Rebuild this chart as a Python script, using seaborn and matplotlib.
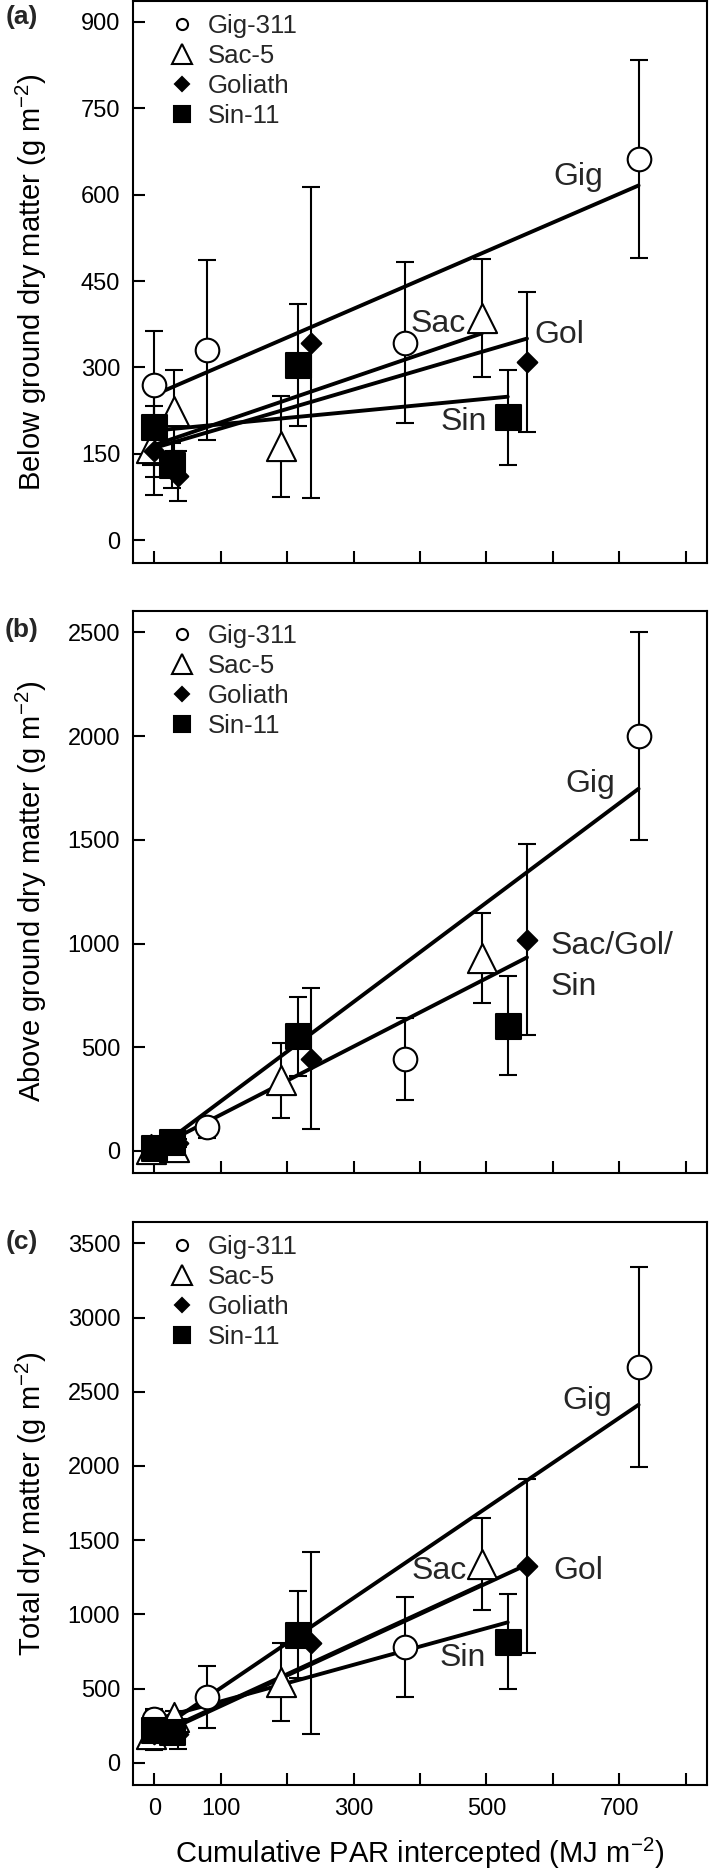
import matplotlib
matplotlib.use('Agg')
import matplotlib.pyplot as plt
import seaborn as sns
from matplotlib.lines import Line2D

# Cumulative PAR intercepted (MJ m-2) at each harvest, per cultivar
par_gig = [0, 80, 378, 729]
par_sac = [-5, 30, 190, 493]
par_gol = [0, 36, 236, 561]
par_sin = [0, 26, 216, 532]

# (a) Below ground dry matter (g m-2) with error bars
below_gig = [270, 330, 343, 662]
below_gig_err = [94, 156, 140, 172]
below_sac = [160, 225, 163, 386]
below_sac_err = [30, 70, 88, 102]
below_gol = [155, 111, 343, 309]
below_gol_err = [77, 43, 270, 122]
below_sin = [196, 130, 304, 213]
below_sin_err = [86, 39, 106, 82]

# (b) Above ground dry matter (g m-2)
above_gig = [5, 114, 444, 2000]
above_gig_err = [20, 52, 198, 503]
above_sac = [10, 20, 340, 930]
above_sac_err = [15, 20, 180, 215]
above_gol = [10, 40, 444, 1018]
above_gol_err = [10, 20, 340, 460]
above_sin = [15, 45, 552, 604]
above_sin_err = [10, 20, 192, 240]

# (c) Total dry matter (g m-2)
total_gig = [292, 445, 779, 2666]
total_gig_err = [70, 208, 338, 672]
total_sac = [195, 306, 543, 1336]
total_sac_err = [40, 40, 265, 310]
total_gol = [195, 195, 807, 1327]
total_gol_err = [40, 100, 610, 585]
total_sin = [222, 208, 862, 815]
total_sin_err = [136, 50, 293, 320]

# Fitted lines: y at the first and last PAR value
below_fit_gig = [252, 616]
below_fit_sac = [163, 359]
below_fit_gol = [160, 350]
below_fit_sin = [190, 249]
above_fit_gig = [0, 1746]
above_fit_pooled = [10, 933]  # Sac/Gol/Sin, drawn over Goliath's PAR range
total_fit_gig = [200, 2412]
total_fit_sac = [175, 1200]
total_fit_gol = [175, 1335]
total_fit_sin = [290, 946]

cultivars = ['Gig-311', 'Sac-5', 'Goliath', 'Sin-11']
par = [par_gig, par_sac, par_gol, par_sin]

sns.set_theme(style="ticks")
plt.rcParams['font.family'] = ['Liberation Sans', 'DejaVu Sans']
plt.rcParams['mathtext.default'] = 'regular'

# marker, plot size (pt), legend size (pt), face colour
marker_style = {
    'Gig-311': ('o', 17, 8, 'white'),
    'Sac-5': ('^', 21, 14, 'white'),
    'Goliath': ('D', 10, 6.8, 'black'),
    'Sin-11': ('s', 18, 11.5, 'black'),
}

fig = plt.figure(figsize=(7.09, 18.68), dpi=100)
ax_a = fig.add_axes([0.18716, 0.69877, 0.80959, 0.30070])
ax_b = fig.add_axes([0.18716, 0.37222, 0.80959, 0.30069])
ax_c = fig.add_axes([0.18716, 0.04443, 0.80959, 0.30155])


def draw_points(ax, ys, errs):
    for name, x, y, e in zip(cultivars, par, ys, errs):
        mk, size, _, face = marker_style[name]
        ax.errorbar(x, y, yerr=e, fmt='none', ecolor='black', elinewidth=1.5,
                    capsize=6.5, capthick=1.5, zorder=2)
        sns.scatterplot(x=x, y=y, marker=mk, s=size ** 2, color=face,
                        edgecolor='black', linewidth=1.5, ax=ax, zorder=4,
                        legend=False)


def draw_fit(ax, x, fit):
    sns.lineplot(x=[x[0], x[-1]], y=fit, color='black', lw=2.8, ax=ax,
                 zorder=3, legend=False)


def style_axes(ax, ylim, yticks, ylabel):
    ax.set_xlim(-32.5, 831.5)
    ax.set_ylim(*ylim)
    ax.set_xticks(range(0, 801, 100))
    ax.set_yticks(yticks)
    ax.tick_params(direction='in', length=8.6, width=1.5, labelsize=17, pad=9,
                   colors='black')
    for sp in ax.spines.values():
        sp.set_linewidth(1.5)
        sp.set_color('black')
    ax.set_ylabel(ylabel, fontsize=21, color='black')
    ax.yaxis.set_label_coords(-0.145, 0.5)
    handles = []
    for name in cultivars:
        mk, _, lsize, face = marker_style[name]
        handles.append(Line2D([], [], ls='none', marker=mk, ms=lsize,
                              mfc=face, mec='black', mew=1.5))
    ax.legend(handles, cultivars, loc='upper left', bbox_to_anchor=(0.063, 0.977),
              frameon=False, fontsize=18.5, handlelength=1.0, handletextpad=0.5,
              labelspacing=0.24, borderpad=0, borderaxespad=0)


# (a)
draw_points(ax_a, [below_gig, below_sac, below_gol, below_sin],
            [below_gig_err, below_sac_err, below_gol_err, below_sin_err])
for x, fit in zip(par, [below_fit_gig, below_fit_sac, below_fit_gol, below_fit_sin]):
    draw_fit(ax_a, x, fit)
style_axes(ax_a, (-39.4, 936.5), range(0, 901, 150), 'Below ground dry matter (g m$^{-2}$)')
ax_a.tick_params(labelbottom=False)
ax_a.text(638, 630, 'Gig', fontsize=23, ha='center', va='center', zorder=1)
ax_a.text(427, 376, 'Sac', fontsize=23, ha='center', va='center', zorder=1)
ax_a.text(609, 357, 'Gol', fontsize=23, ha='center', va='center', zorder=1)
ax_a.text(466, 205, 'Sin', fontsize=23, ha='center', va='center', zorder=1)

# (b)
draw_points(ax_b, [above_gig, above_sac, above_gol, above_sin],
            [above_gig_err, above_sac_err, above_gol_err, above_sin_err])
draw_fit(ax_b, par_gig, above_fit_gig)
draw_fit(ax_b, par_gol, above_fit_pooled)
style_axes(ax_b, (-104.6, 2602.6), range(0, 2501, 500), 'Above ground dry matter (g m$^{-2}$)')
ax_b.tick_params(labelbottom=False)
ax_b.text(656, 1767, 'Gig', fontsize=23, ha='center', va='center', zorder=1)
ax_b.text(596, 890, 'Sac/Gol/\nSin', fontsize=23, ha='left', va='center',
          linespacing=1.45, zorder=1)

# (c)
draw_points(ax_c, [total_gig, total_sac, total_gol, total_sin],
            [total_gig_err, total_sac_err, total_gol_err, total_sin_err])
for x, fit in zip(par, [total_fit_gig, total_fit_sac, total_fit_gol, total_fit_sin]):
    draw_fit(ax_c, x, fit)
style_axes(ax_c, (-150, 3645.6), range(0, 3501, 500), 'Total dry matter (g m$^{-2}$)')
ax_c.set_xticklabels(['0', '100', '', '300', '', '500', '', '700', ''])
ax_c.set_xlabel('Cumulative PAR intercepted (MJ m$^{-2}$)', fontsize=21,
                color='black', labelpad=12)
ax_c.text(652, 2435, 'Gig', fontsize=23, ha='center', va='center', zorder=1)
ax_c.text(429, 1294, 'Sac', fontsize=23, ha='center', va='center', zorder=1)
ax_c.text(639, 1294, 'Gol', fontsize=23, ha='center', va='center', zorder=1)
ax_c.text(465, 709, 'Sin', fontsize=23, ha='center', va='center', zorder=1)

# panel letters
for label, ypix in [('(a)', 17), ('(b)', 630), ('(c)', 1242)]:
    fig.text(22 / 709, 1 - ypix / 1868, label, fontsize=19, fontweight='bold',
             ha='center', va='center')

fig.savefig('out.png', dpi=100)
